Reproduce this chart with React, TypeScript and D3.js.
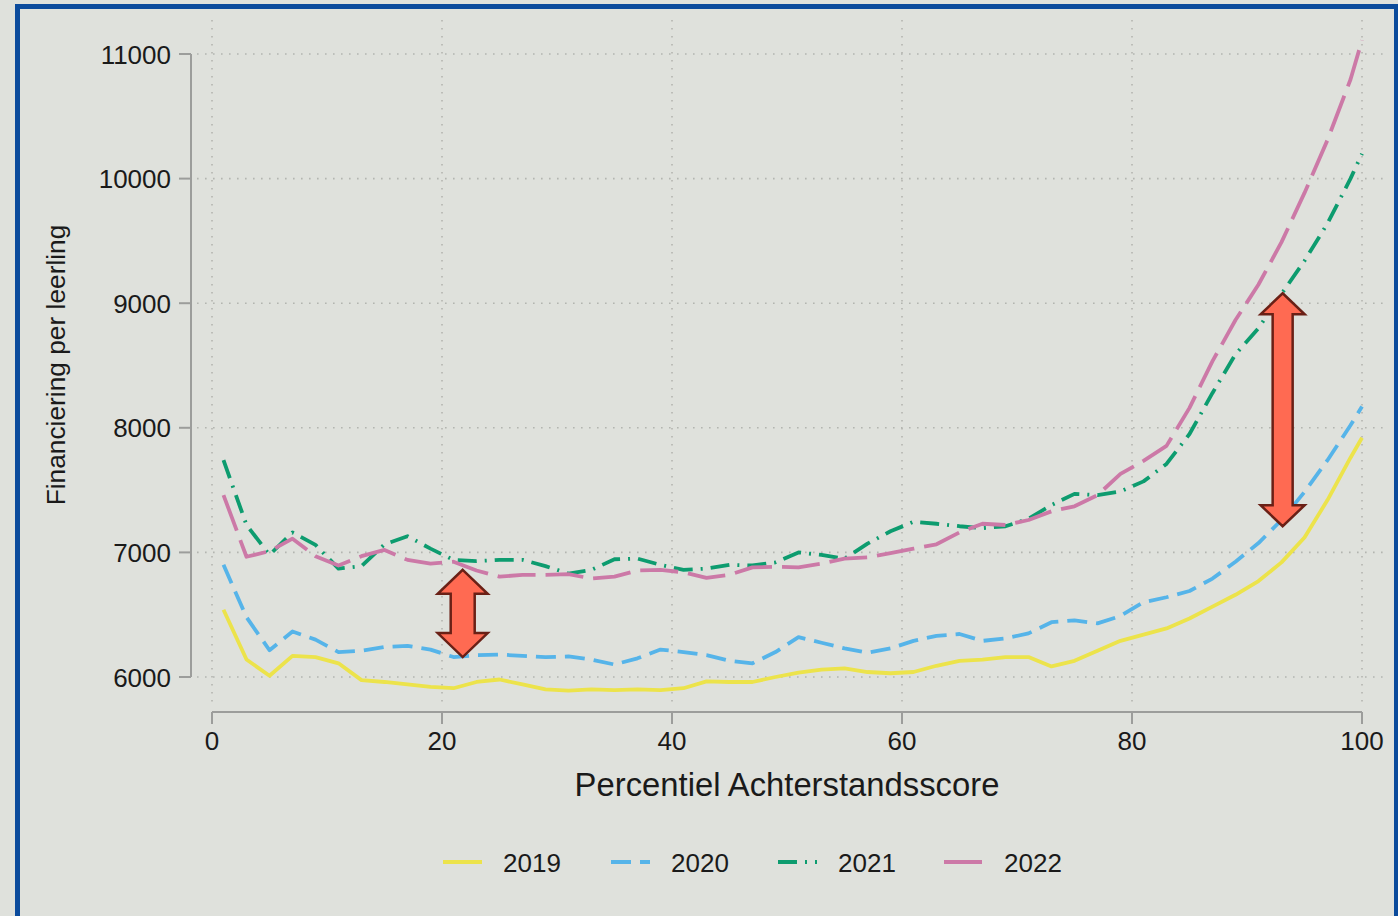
import React from "react";
import * as d3 from "d3";

const percentiles = [1, 3, 5, 7, 9, 11, 13, 15, 17, 19, 21, 23, 25, 27, 29, 31, 33, 35, 37, 39, 41, 43, 45, 47, 49, 51, 53, 55, 57, 59, 61, 63, 65, 67, 69, 71, 73, 75, 77, 79, 81, 83, 85, 87, 89, 91, 93, 95, 97, 99, 100];

const values2019 = [6540, 6140, 6010, 6170, 6160, 6110, 5975, 5960, 5940, 5920,
  5910, 5960, 5980, 5940, 5900, 5890, 5900, 5895,
  5900, 5895, 5910, 5965, 5960, 5960, 6000, 6035, 6060, 6070,
  6040, 6030, 6040, 6090, 6130, 6140, 6160, 6160, 6085, 6130,
  6210, 6290, 6340, 6390, 6470, 6565, 6660, 6770, 6920, 7120, 7420, 7760, 7920];

const values2020 = [6900, 6480, 6215, 6365, 6300, 6200, 6210, 6240, 6250, 6220,
  6160, 6175, 6180, 6170, 6160, 6165, 6140, 6100,
  6150, 6220, 6200, 6175, 6130, 6110, 6200, 6320, 6275, 6230,
  6195, 6230, 6290, 6330, 6345, 6290, 6310, 6350, 6440, 6455,
  6430, 6490, 6600, 6640, 6690, 6790, 6925, 7075, 7260, 7485, 7740, 8020, 8170];

const values2021 = [7740, 7220, 6980, 7160, 7060, 6870, 6890, 7065, 7130, 7030,
  6940, 6930, 6940, 6940, 6890, 6830, 6860, 6945,
  6950, 6900, 6860, 6870, 6900, 6895, 6920, 7000, 6980, 6950,
  7070, 7170, 7245, 7230, 7210, 7195, 7210, 7270, 7380, 7470,
  7460, 7490, 7570, 7710, 7950, 8280, 8590, 8800, 9075, 9340, 9640, 10000, 10200];

const values2022 = [7460, 6965, 7010, 7110, 6970, 6895, 6970, 7020, 6940, 6910,
  6925, 6855, 6805, 6820, 6820, 6825, 6790, 6805,
  6855, 6860, 6840, 6795, 6820, 6880, 6885, 6880, 6910, 6950,
  6960, 6995, 7030, 7065, 7160, 7230, 7220, 7260, 7330, 7370,
  7460, 7630, 7735, 7855, 8160, 8535, 8865, 9150, 9490, 9885, 10310, 10795, 11110];

const seriesNames = ["2019", "2020", "2021", "2022"];
const xTicks = [0, 20, 40, 60, 80, 100];
const yTicks = [6000, 7000, 8000, 9000, 10000, 11000];

// annotation arrows: percentile, from value, to value
const arrowSpecs = [
  { pct: 21.8, top: 6860, bottom: 6160, headW: 50, headH: 24, shaftW: 24 },
  { pct: 93.1, top: 9080, bottom: 7210, headW: 44, headH: 21, shaftW: 20 },
];

const seriesValues = [values2019, values2020, values2021, values2022];
const seriesStyles = [
  { color: "#ece34b", dash: "none" },
  { color: "#56b4e9", dash: "20 9" },
  { color: "#0d9c6f", dash: "19 8 2 8" },
  { color: "#cc79a7", dash: "38 10" },
];

const FONT = "'Liberation Sans', Arial, Helvetica, sans-serif";

export default function App() {
  const W = 1398;
  const H = 916;
  const x = d3.scaleLinear().domain([0, 100]).range([212, 1362]);
  const y = d3.scaleLinear().domain([6000, 11000]).range([677, 54]);

  const line = d3
    .line<[number, number]>()
    .x((d) => x(d[0]))
    .y((d) => y(d[1]));

  const gridColor = "#b3b5b0";
  const axisColor = "#9c9d9b";

  const arrowPath = (a: typeof arrowSpecs[number]) => {
    const cx = x(a.pct);
    const t = y(a.top);
    const b = y(a.bottom);
    const hw = a.headW / 2;
    const sw = a.shaftW / 2;
    const pts: [number, number][] = [
      [cx, t],
      [cx + hw, t + a.headH],
      [cx + sw, t + a.headH],
      [cx + sw, b - a.headH],
      [cx + hw, b - a.headH],
      [cx, b],
      [cx - hw, b - a.headH],
      [cx - sw, b - a.headH],
      [cx - sw, t + a.headH],
      [cx - hw, t + a.headH],
    ];
    return "M" + pts.map((p) => p.join(",")).join("L") + "Z";
  };

  const legendX = [443, 611, 778, 944];

  return (
    <svg
      width={W}
      height={H}
      style={{ position: "fixed", left: 0, top: 0, display: "block" }}
      fontFamily={FONT}
    >
      <rect x={0} y={0} width={W} height={H} fill="#dfe1dc" />
      <rect x={17.5} y={6.5} width={1379} height={1000} fill="none" stroke="#0b4b9c" strokeWidth={5} />

      {/* grid */}
      {yTicks.map((t) => (
        <line key={"gy" + t} x1={197} x2={1385} y1={y(t)} y2={y(t)} stroke={gridColor} strokeWidth={1.6} strokeDasharray="1.6 6.4" />
      ))}
      {xTicks.map((t) => (
        <line key={"gx" + t} x1={x(t)} x2={x(t)} y1={20} y2={705} stroke={gridColor} strokeWidth={1.6} strokeDasharray="1.6 6.4" />
      ))}

      {/* y axis */}
      <line x1={191} x2={191} y1={y(11000)} y2={y(6000)} stroke={axisColor} strokeWidth={2} />
      {yTicks.map((t) => (
        <g key={"yt" + t}>
          <line x1={179} x2={191} y1={y(t)} y2={y(t)} stroke={axisColor} strokeWidth={2} />
          <text x={171} y={y(t) + 9.5} textAnchor="end" fontSize={26} fill="#1a1a1a">
            {t}
          </text>
        </g>
      ))}
      <text
        transform={`translate(65,365) rotate(-90)`}
        textAnchor="middle"
        fontSize={26.3}
        fill="#1a1a1a"
      >
        Financiering per leerling
      </text>

      {/* x axis */}
      <line x1={x(0)} x2={x(100)} y1={712} y2={712} stroke={axisColor} strokeWidth={2} />
      {xTicks.map((t) => (
        <g key={"xt" + t}>
          <line x1={x(t)} x2={x(t)} y1={712} y2={724} stroke={axisColor} strokeWidth={2} />
          <text x={x(t)} y={750} textAnchor="middle" fontSize={26} fill="#1a1a1a">
            {t}
          </text>
        </g>
      ))}
      <text x={787} y={796} textAnchor="middle" fontSize={32.8} fill="#1a1a1a">
        Percentiel Achterstandsscore
      </text>

      {/* series */}
      {seriesValues.map((vals, i) => (
        <path
          key={"s" + i}
          d={line(percentiles.map((p, j) => [p, vals[j]] as [number, number])) || ""}
          fill="none"
          stroke={seriesStyles[i].color}
          strokeWidth={3.8}
          strokeDasharray={seriesStyles[i].dash}
          strokeLinejoin="round"
        />
      ))}

      {/* arrows */}
      {arrowSpecs.map((a, i) => (
        <path key={"a" + i} d={arrowPath(a)} fill="#ff6a52" stroke="#6a2016" strokeWidth={2.5} strokeLinejoin="miter" />
      ))}

      {/* legend */}
      {seriesNames.map((n, i) => (
        <g key={"lg" + n}>
          <line
            x1={legendX[i]}
            x2={legendX[i] + 39}
            y1={862}
            y2={862}
            stroke={seriesStyles[i].color}
            strokeWidth={3.8}
            strokeDasharray={seriesStyles[i].dash}
          />
          <text x={legendX[i] + 60} y={872} fontSize={26} fill="#1a1a1a">
            {n}
          </text>
        </g>
      ))}
    </svg>
  );
}
